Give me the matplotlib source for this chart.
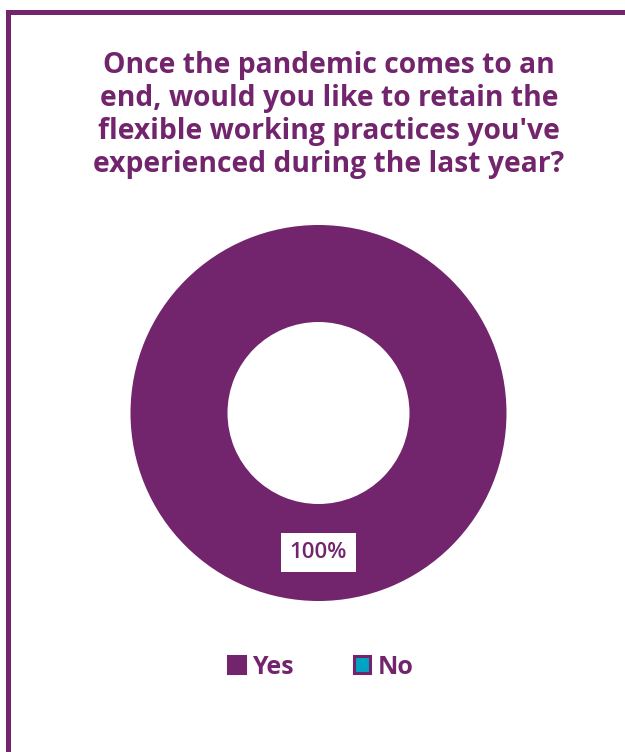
import matplotlib
matplotlib.use("Agg")
import matplotlib.pyplot as plt
from matplotlib.patches import Rectangle

categories = ["Yes", "No"]
values = [100, 0]
colors = ["#72246C", "#00A3C4"]
title = ("Once the pandemic comes to an\nend, would you like to retain the\n"
         "flexible working practices you've\nexperienced during the last year?")
purple = "#72246C"

plt.rcParams['font.family'] = ['Open Sans', 'DejaVu Sans']

W, H = 625, 752
fig = plt.figure(figsize=(W / 100, H / 100), dpi=100)
fig.patch.set_facecolor("white")

# frame border
fig.patches.append(Rectangle((7.5 / W, -0.05), (626.5 - 7.5) / W, (H - 12) / H + 0.05,
                             transform=fig.transFigure, fill=False,
                             edgecolor=purple, linewidth=3.6, zorder=0))

fig.text(329 / W, 1 - 115 / H, title, ha="center", va="center", fontsize=20.3,
         fontweight="bold", color=purple, linespacing=1.17)

cx, cy, r = 318.5, 413, 188
ax = fig.add_axes([(cx - r) / W, (H - cy - r) / H, 2 * r / W, 2 * r / H])
inner = 91 / 188
wedges, texts, autotexts = ax.pie(
    values, colors=colors, startangle=90, counterclock=False,
    wedgeprops=dict(width=1 - inner, edgecolor="none"),
    autopct=lambda p: f"{p:.0f}%" if p > 0 else "",
    pctdistance=(1 + inner) / 2, radius=1,
    textprops=dict(color=purple, fontsize=16, fontweight="semibold"))
for t in autotexts:
    t.set_bbox(dict(facecolor="white", edgecolor="none", pad=6.5))
ax.set_xlim(-1, 1)
ax.set_ylim(-1, 1)
ax.set_aspect("equal")
ax.axis("off")

handles = [Rectangle((0, 0), 1, 1, facecolor=c, edgecolor=purple, linewidth=2.2)
           for c in colors]
leg = fig.legend(handles, categories, loc="center", bbox_to_anchor=(321 / W, 1 - 667 / H),
                 ncol=2, frameon=False, handlelength=0.65, handleheight=0.65,
                 handletextpad=0.3, columnspacing=2.4,
                 prop=dict(size=18, weight="bold"))
for t in leg.get_texts():
    t.set_color(purple)

fig.savefig("out.png", dpi=100, facecolor="white")
